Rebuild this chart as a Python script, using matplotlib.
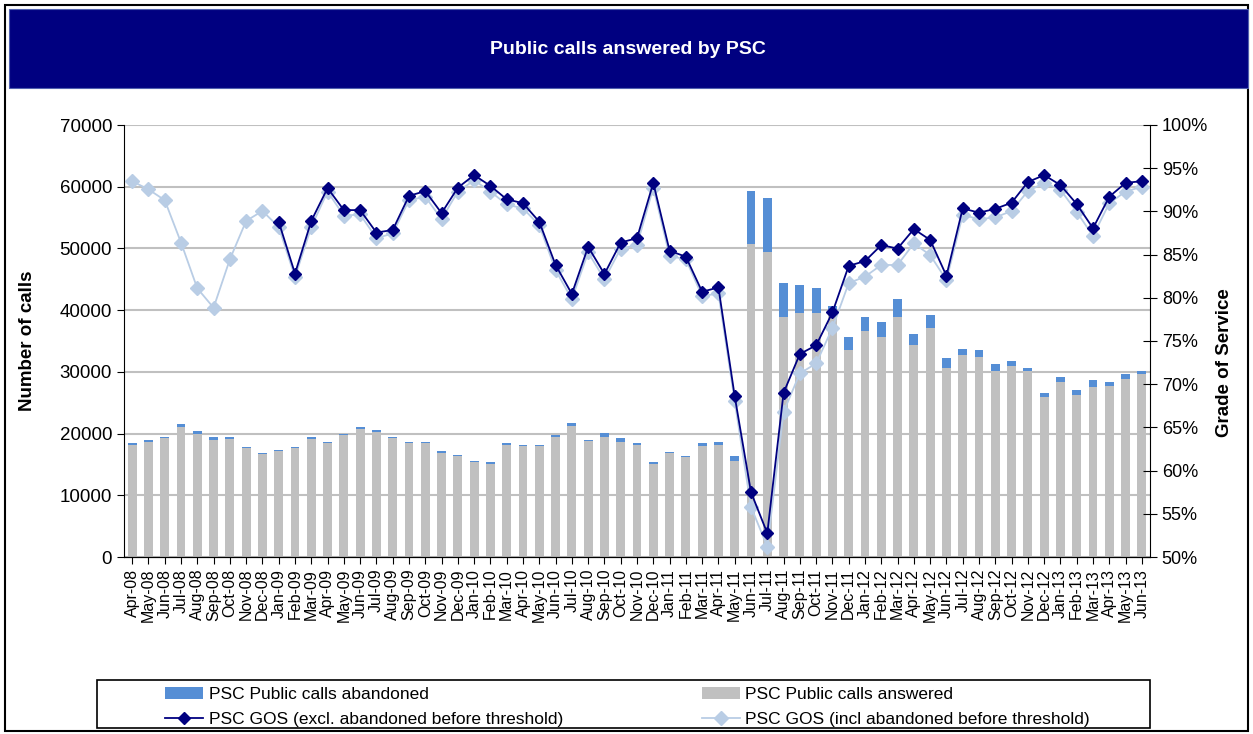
import numpy as np
import matplotlib
matplotlib.use("Agg")
import matplotlib.pyplot as plt
from matplotlib.patches import Rectangle

plt.rcParams['font.family'] = ['Liberation Sans', 'DejaVu Sans']

months = ['Apr-08', 'May-08', 'Jun-08', 'Jul-08', 'Aug-08', 'Sep-08', 'Oct-08', 'Nov-08', 'Dec-08',
          'Jan-09', 'Feb-09', 'Mar-09', 'Apr-09', 'May-09', 'Jun-09', 'Jul-09', 'Aug-09', 'Sep-09',
          'Oct-09', 'Nov-09', 'Dec-09', 'Jan-10', 'Feb-10', 'Mar-10', 'Apr-10', 'May-10', 'Jun-10',
          'Jul-10', 'Aug-10', 'Sep-10', 'Oct-10', 'Nov-10', 'Dec-10', 'Jan-11', 'Feb-11', 'Mar-11',
          'Apr-11', 'May-11', 'Jun-11', 'Jul-11', 'Aug-11', 'Sep-11', 'Oct-11', 'Nov-11', 'Dec-11',
          'Jan-12', 'Feb-12', 'Mar-12', 'Apr-12', 'May-12', 'Jun-12', 'Jul-12', 'Aug-12', 'Sep-12',
          'Oct-12', 'Nov-12', 'Dec-12', 'Jan-13', 'Feb-13', 'Mar-13', 'Apr-13', 'May-13', 'Jun-13']

answered = [18200, 18700, 19300, 21100, 20000, 18900, 19200, 17600, 16700,
            17200, 17600, 19200, 18500, 19700, 20800, 20300, 19300, 18500,
            18500, 16900, 16300, 15400, 15150, 18200, 18000, 18000, 19500,
            21200, 18800, 19500, 18700, 18200, 15150, 16900, 16200, 18000,
            18150, 15600, 50700, 49400, 38950, 39500, 39500, 39800, 33550,
            36700, 35600, 38950, 34300, 37150, 30700, 32750, 32450, 30200,
            30950, 30200, 25950, 28300, 26250, 27600, 27750, 28850, 29650]

abandoned = [200, 200, 200, 450, 400, 600, 300, 200, 200,
             200, 200, 300, 200, 300, 200, 200, 200, 200,
             200, 200, 200, 200, 200, 230, 150, 150, 270,
             570, 160, 540, 530, 230, 200, 170, 170, 430,
             540, 770, 8600, 8850, 5500, 4500, 4150, 900, 2050,
             2250, 2400, 2850, 1800, 2050, 1500, 1000, 1100, 1050,
             800, 500, 550, 800, 800, 1000, 550, 800, 500]

gos_excl = [np.nan] * 9 + [
    88.8, 82.8, 88.9, 92.7, 90.15, 90.15, 87.55, 87.85, 91.8,
    92.35, 89.8, 92.75, 94.2, 92.95, 91.4, 90.95, 88.8, 83.8,
    80.45, 85.9, 82.75, 86.4, 86.9, 93.3, 85.45, 84.75, 80.7,
    81.2, 68.6, 57.5, 52.75, 69.0, 73.5, 74.5, 78.3, 83.7,
    84.25, 86.1, 85.7, 87.95, 86.7, 82.55, 90.35, 89.85, 90.3,
    91.0, 93.4, 94.2, 93.05, 90.85, 88.05, 91.7, 93.3, 93.5]

gos_incl = [93.5, 92.55, 91.3, 86.4, 81.1, 78.85, 84.45, 88.9, 90.05,
            88.2, 82.4, 88.2, 92.3, 89.5, 89.65, 86.9, 87.45, 91.3,
            91.7, 89.1, 92.3, 93.6, 92.3, 90.8, 90.35, 88.4, 83.2,
            79.85, 85.25, 82.15, 85.7, 86.1, 92.75, 84.85, 84.45, 80.2,
            80.5, 68.0, 55.8, 51.2, 66.8, 71.25, 72.4, 76.5, 81.7,
            82.45, 83.8, 83.8, 86.3, 84.95, 82.05, 89.6, 89.1, 89.3,
            90.05, 92.35, 93.3, 92.5, 89.95, 87.15, 90.95, 92.3, 92.85]

navy = '#000080'
x = np.arange(len(months))
W, H = 1253, 734

fig = plt.figure(figsize=(12.53, 7.34), dpi=100)

# outer border and title band
fig.patches.append(Rectangle((5 / W, 3 / H), 1243 / W, 726 / H, transform=fig.transFigure,
                             fill=False, edgecolor='black', linewidth=1.5))
fig.patches.append(Rectangle((9 / W, (H - 88) / H), 1239 / W, 79 / H,
                             transform=fig.transFigure, facecolor=navy, edgecolor='#5060b0', linewidth=0.8))
fig.text(628 / W, (H - 49) / H, 'Public calls answered by PSC', color='white',
         fontsize=14, fontweight='bold', ha='center', va='center')

ax = fig.add_axes([124 / W, (H - 557) / H, 1026 / W, 432 / H])
ax.bar(x, answered, width=0.55, color='#C0C0C0', label='PSC Public calls answered', zorder=2)
ax.bar(x, abandoned, width=0.55, bottom=answered, color='#558ED5', label='PSC Public calls abandoned', zorder=2)
ax.set_xlim(-0.5, len(months) - 0.5)
ax.set_ylim(0, 70000)
ax.set_yticks(range(0, 70001, 10000))
ax.yaxis.grid(True, color='#C0C0C0', linewidth=1.5, zorder=0)
ax.set_axisbelow(True)
ax.spines['top'].set_visible(False)
ax.spines['right'].set_visible(False)
ax.set_xticks(x)
ax.set_xticklabels(months, rotation=90, fontsize=11.5)
ax.tick_params(axis='y', labelsize=13.5, length=5, direction='out')
ax.tick_params(axis='x', length=5, direction='out')
ax.set_ylabel('Number of calls', fontsize=13.5, fontweight='bold')
ax.yaxis.set_label_coords(-88 / 1026, 0.5)

ax2 = ax.twinx()
ax2.plot(x, gos_incl, color='#B9CDE5', marker='D', markersize=7, linewidth=1.3,
         label='PSC GOS (incl abandoned before threshold)', zorder=3)
ax2.plot(x, gos_excl, color=navy, marker='D', markersize=6.5, linewidth=1.3,
         label='PSC GOS (excl. abandoned before threshold)', zorder=4)
ax2.set_ylim(50, 100)
ax2.set_yticks(range(50, 101, 5))
ax2.set_yticklabels([f'{v}%' for v in range(50, 101, 5)])
ax2.tick_params(axis='y', labelsize=13, length=10, direction='inout')
ax2.spines['top'].set_visible(False)
ax2.spines['left'].set_visible(False)
ax2.set_ylabel('Grade of Service', fontsize=13.5, fontweight='bold')
ax2.yaxis.set_label_coords(1 + 66 / 1026, 0.45)

h1, l1 = ax.get_legend_handles_labels()
h2, l2 = ax2.get_legend_handles_labels()
handles = [h1[1], h2[1], h1[0], h2[0]]
labels = [l1[1], l2[1], l1[0], l2[0]]
fig.legend(handles, labels, ncol=2, loc='upper left', bbox_to_anchor=(153 / W, (H - 675) / H),
           frameon=False, fontsize=12.5, columnspacing=8.0, handlelength=2.2, handletextpad=0.3,
           labelspacing=0.55, borderpad=0.2)
fig.patches.append(Rectangle((97 / W, (H - 728) / H), 1053 / W, 48 / H,
                             transform=fig.transFigure, fill=False, edgecolor='black', linewidth=1.2))

fig.savefig('out.png', dpi=100)
